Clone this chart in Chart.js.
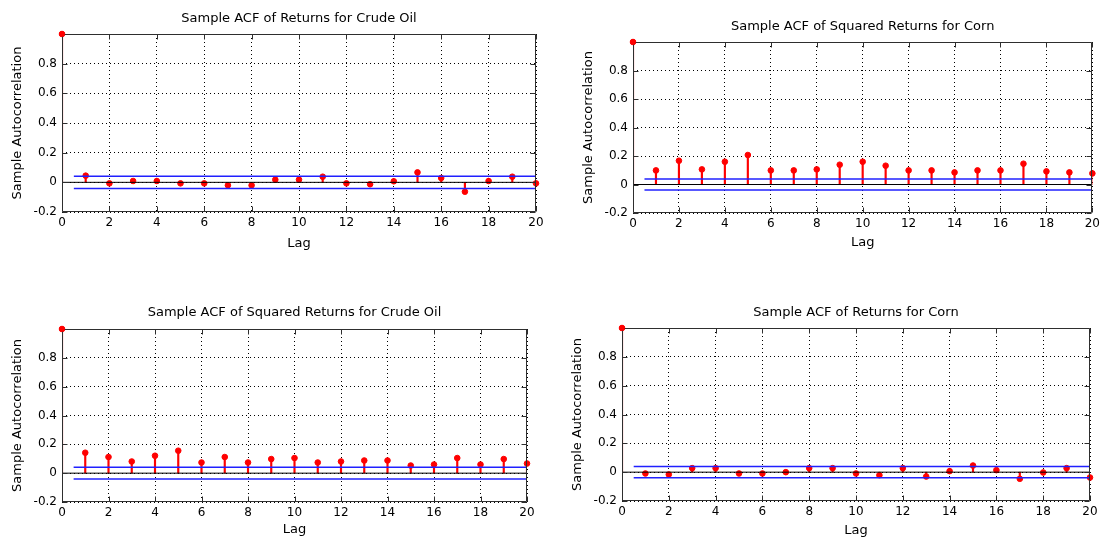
<!DOCTYPE html>
<html>
<head>
<meta charset="utf-8">
<script src="https://cdn.jsdelivr.net/npm/chart.js@4"></script>
<style>
  html, body { margin: 0; padding: 0; background: #fff; }
  #page { position: relative; width: 1104px; height: 539px; overflow: hidden; }
  .panel { position: absolute; }
</style>
</head>
<body>
<div id="page">
  <div class="panel" style="left:0;top:0;width:552px;height:262px"><canvas id="c1"></canvas></div>
  <div class="panel" style="left:552px;top:0;width:552px;height:262px"><canvas id="c2"></canvas></div>
  <div class="panel" style="left:0;top:280px;width:552px;height:259px"><canvas id="c3"></canvas></div>
  <div class="panel" style="left:552px;top:280px;width:552px;height:259px"><canvas id="c4"></canvas></div>
</div>
<script>
// lags and sample ACF values
const lags = [0, 1, 2, 3, 4, 5, 6, 7, 8, 9, 10, 11, 12, 13, 14, 15, 16, 17, 18, 19, 20];
const acfRetCrude = [1, 0.045, -0.007, 0.009, 0.009, -0.007, -0.007, -0.020, -0.020, 0.018, 0.018, 0.038, -0.007, -0.013, 0.007, 0.067, 0.029, -0.063, 0.009, 0.038, -0.007];
const acfSqCorn   = [1, 0.099, 0.167, 0.106, 0.160, 0.207, 0.099, 0.099, 0.106, 0.139, 0.160, 0.132, 0.099, 0.099, 0.085, 0.099, 0.099, 0.146, 0.092, 0.085, 0.078];
const acfSqCrude  = [1, 0.142, 0.112, 0.081, 0.121, 0.156, 0.074, 0.112, 0.074, 0.098, 0.105, 0.074, 0.081, 0.088, 0.088, 0.053, 0.060, 0.105, 0.060, 0.098, 0.067];
const acfRetCorn  = [1, -0.009, -0.016, 0.028, 0.028, -0.009, -0.009, 0.000, 0.028, 0.028, -0.009, -0.021, 0.028, -0.030, 0.007, 0.046, 0.014, -0.046, -0.002, 0.028, -0.037];

// confidence bounds (+/-), drawn from lag 0.5 to 20
const boundCrude = 0.041;
const boundCorn = 0.039;
const boundRange = [0.5, 20];

const yRange = [-0.2, 1];

const RED = '#ff0000';
const BLUE = '#2020ff';
const FONT = "'DejaVu Sans', sans-serif";

// matlab-style box + inward tick marks, drawn over the stems
const axesBox = {
  id: 'axesBox',
  afterDatasetsDraw(chart) {
    const { ctx, chartArea: a, scales } = chart;
    const L = Math.round(a.left) + 0.5, R = Math.round(a.right) - 0.5;
    const T = Math.round(a.top) + 0.5, B = Math.round(a.bottom) - 0.5;
    ctx.save();
    ctx.strokeStyle = '#2e2e2e';
    ctx.lineWidth = 1;
    ctx.setLineDash([]);
    ctx.beginPath();
    ctx.moveTo(L, T); ctx.lineTo(R, T); ctx.lineTo(R, B); ctx.lineTo(L, B); ctx.closePath();
    scales.x.ticks.forEach(t => {
      const px = Math.round(scales.x.getPixelForValue(t.value)) + 0.5;
      ctx.moveTo(px, B); ctx.lineTo(px, B - 5);
      ctx.moveTo(px, T); ctx.lineTo(px, T + 5);
    });
    scales.y.ticks.forEach(t => {
      const py = Math.round(scales.y.getPixelForValue(t.value)) + 0.5;
      ctx.moveTo(L, py); ctx.lineTo(L + 5, py);
      ctx.moveTo(R, py); ctx.lineTo(R - 5, py);
    });
    ctx.stroke();
    // lag-0 marker sits on the corner, keep it on top like the original
    const m = chart.getDatasetMeta(3).data[0];
    if (m) {
      ctx.fillStyle = RED;
      ctx.beginPath(); ctx.arc(m.x, m.y, 2.8, 0, Math.PI * 2); ctx.fill();
    }
    ctx.restore();
  }
};

function makeAcf(id, title, values, bound, lay) {
  const pts = lags.map((l, i) => ({ x: l, y: values[i] }));
  const up = boundRange.map(x => ({ x: x, y: bound }));
  const lo = boundRange.map(x => ({ x: x, y: -bound }));
  const zero = [{ x: lags[0], y: 0 }, { x: lags[lags.length - 1], y: 0 }];

  return new Chart(document.getElementById(id), {
    type: 'scatter',
    data: {
      datasets: [
        { type: 'line', data: up, borderColor: BLUE, borderWidth: 1.5, pointRadius: 0, order: 0 },
        { type: 'line', data: lo, borderColor: BLUE, borderWidth: 1.5, pointRadius: 0, order: 0 },
        { type: 'line', data: zero, borderColor: '#000', borderWidth: 1, pointRadius: 0, order: 1 },
        { type: 'scatter', data: pts, backgroundColor: RED, borderColor: RED, pointRadius: 2.8, clip: false, order: 2 },
        { type: 'bar', data: pts, backgroundColor: RED, barThickness: 1.5, grouped: false, order: 3 }
      ]
    },
    options: {
      responsive: true, maintainAspectRatio: false, animation: false,
      layout: { padding: { left: 0, right: lay.right, top: 0, bottom: 0 } },
      plugins: {
        legend: { display: false },
        tooltip: { enabled: false },
        title: {
          display: true, text: title, fullSize: false, color: '#000',
          font: { family: FONT, size: 13, weight: 'normal' },
          padding: { top: lay.titleTop, bottom: lay.titleBottom }
        }
      },
      scales: {
        x: {
          type: 'linear', min: 0, max: 20, offset: false,
          afterFit: s => { s.height = lay.xh; },
          ticks: {
            stepSize: 2, autoSkip: false, maxRotation: 0, padding: 4, color: '#000',
            font: { family: FONT, size: 12 }
          },
          grid: { color: '#000', lineWidth: 1, drawTicks: false, offset: false },
          border: { display: false, dash: [1, 3] },
          title: {
            display: true, text: 'Lag', color: '#000',
            font: { family: FONT, size: 13 },
            padding: { top: 0, bottom: lay.lagBottom }
          }
        },
        y: {
          type: 'linear', min: yRange[0], max: yRange[1],
          afterFit: s => { s.width = lay.yw; },
          ticks: {
            stepSize: 0.2, padding: 5, color: '#000',
            font: { family: FONT, size: 12 },
            callback: v => (Math.abs(v - 1) < 1e-9 ? '' : String(+v.toFixed(1)))
          },
          grid: { color: '#000', lineWidth: 1, drawTicks: false },
          border: { display: false, dash: [1, 3] },
          title: {
            display: true, text: 'Sample Autocorrelation', color: '#000',
            font: { family: FONT, size: 13 },
            padding: { top: lay.ylTop, bottom: 0 }
          }
        }
      }
    },
    plugins: [axesBox]
  });
}

makeAcf('c1', 'Sample ACF of Returns for Crude Oil', acfRetCrude, boundCrude,
  { right: 16, titleTop: 11.2, titleBottom: 7.2, xh: 50, lagBottom: 10.2, yw: 62, ylTop: 9.7 });
makeAcf('c2', 'Sample ACF of Squared Returns for Corn', acfSqCorn, boundCorn,
  { right: 8, titleTop: 19.2, titleBottom: 7.2, xh: 49, lagBottom: 11.2, yw: 81, ylTop: 29.2 });
makeAcf('c3', 'Sample ACF of Squared Returns for Crude Oil', acfSqCrude, boundCrude,
  { right: 25, titleTop: 25.2, titleBottom: 8.2, xh: 37, lagBottom: 1.2, yw: 62, ylTop: 10.2 });
makeAcf('c4', 'Sample ACF of Returns for Corn', acfRetCorn, boundCorn,
  { right: 14, titleTop: 25.2, titleBottom: 7.2, xh: 38, lagBottom: 0.2, yw: 70, ylTop: 17.7 });
</script>
</body>
</html>
